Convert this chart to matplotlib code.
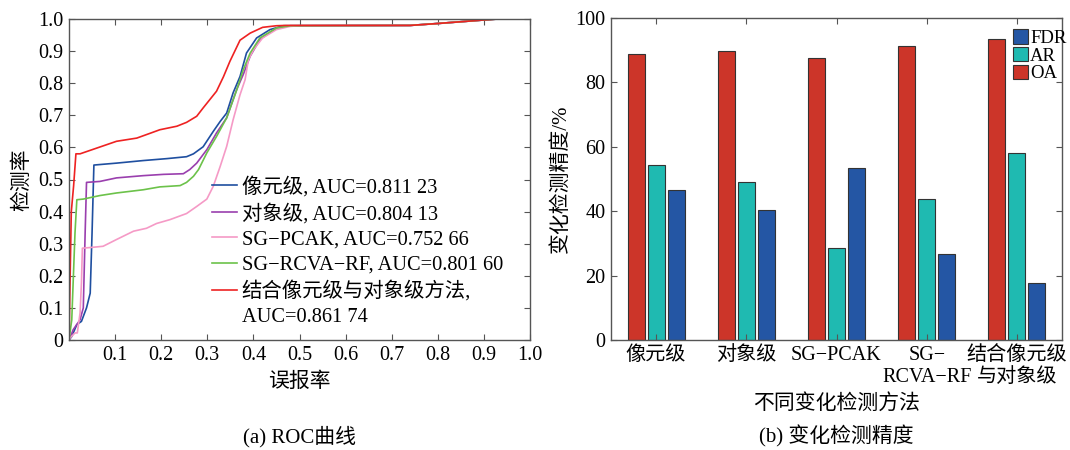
import matplotlib.pyplot as plt
from matplotlib.lines import Line2D
import numpy as np

plt.rcParams['font.family'] = ['Liberation Serif', 'Noto Sans CJK SC']
plt.rcParams['axes.unicode_minus'] = True

# ROC 曲线数据 (误报率, 检测率)
tail_x = [0.74, 0.80, 0.90, 0.93, 1.0]
tail_y = [0.980, 0.986, 0.997, 1.0, 1.0]

pix_x = [0, 0.006, 0.017, 0.027, 0.038, 0.046, 0.050, 0.054, 0.103, 0.161, 0.212, 0.255, 0.270,
         0.291, 0.313, 0.328, 0.342, 0.356, 0.371, 0.385, 0.407, 0.436, 0.465] + tail_x
pix_y = [0, 0.011, 0.048, 0.058, 0.100, 0.146, 0.333, 0.545, 0.551, 0.559, 0.565, 0.571, 0.580,
         0.602, 0.650, 0.681, 0.707, 0.770, 0.821, 0.894, 0.941, 0.967, 0.979] + tail_y

obj_x = [0, 0.002, 0.009, 0.024, 0.031, 0.035, 0.038, 0.067, 0.103, 0.161, 0.205, 0.248, 0.262,
         0.277, 0.299, 0.320, 0.342, 0.364, 0.378, 0.393, 0.414, 0.450, 0.480] + tail_x
obj_y = [0, 0.006, 0.032, 0.063, 0.100, 0.333, 0.491, 0.494, 0.505, 0.512, 0.516, 0.518, 0.531,
         0.551, 0.593, 0.645, 0.692, 0.781, 0.827, 0.884, 0.936, 0.972, 0.979] + tail_y

pcak_x = [0, 0.002, 0.013, 0.018, 0.024, 0.027, 0.029, 0.053, 0.074, 0.103, 0.140, 0.168, 0.190,
          0.219, 0.255, 0.277, 0.299, 0.313, 0.328, 0.342, 0.356, 0.371, 0.382, 0.389, 0.400,
          0.420, 0.450, 0.480, 0.500] + tail_x
pcak_y = [0, 0.006, 0.022, 0.022, 0.084, 0.178, 0.286, 0.289, 0.292, 0.313, 0.339, 0.348, 0.363,
          0.375, 0.394, 0.416, 0.439, 0.479, 0.541, 0.603, 0.686, 0.764, 0.811, 0.873, 0.904,
          0.941, 0.967, 0.977, 0.979] + tail_y

rf_x = [0, 0.006, 0.013, 0.017, 0.031, 0.067, 0.103, 0.161, 0.197, 0.241, 0.255, 0.270, 0.281,
        0.299, 0.320, 0.342, 0.364, 0.378, 0.393, 0.414, 0.450, 0.480] + tail_x
rf_y = [0, 0.063, 0.333, 0.437, 0.439, 0.450, 0.458, 0.468, 0.477, 0.481, 0.491, 0.510, 0.531,
        0.583, 0.634, 0.692, 0.780, 0.842, 0.894, 0.941, 0.972, 0.979] + tail_y

comb_x = [0, 0.005, 0.010, 0.015, 0.024, 0.103, 0.147, 0.176, 0.197, 0.234, 0.255, 0.277, 0.291,
          0.320, 0.335, 0.349, 0.371, 0.393, 0.420, 0.450, 0.470] + tail_x
comb_y = [0, 0.400, 0.480, 0.580, 0.580, 0.619, 0.629, 0.644, 0.655, 0.666, 0.678, 0.697, 0.723,
          0.775, 0.820, 0.868, 0.934, 0.956, 0.974, 0.979, 0.980] + tail_y

roc_labels = ['像元级, AUC=0.811 23', '对象级, AUC=0.804 13', 'SG−PCAK, AUC=0.752 66',
              'SG−RCVA−RF, AUC=0.801 60', '结合像元级与对象级方法,']
roc_extra = 'AUC=0.861 74'
roc_colors = ['#1f4fa0', '#9a3fae', '#f59ac6', '#6cc24a', '#ee2222']

# 变化检测精度数据
methods = ['像元级', '对象级', 'SG−PCAK', 'SG−\nRCVA−RF', '结合像元级\n与对象级']
oa = [88.8, 89.9, 87.5, 91.2, 93.4]
ar = [54.4, 49.1, 28.7, 43.7, 58.0]
fdr = [46.6, 40.4, 53.5, 26.7, 17.6]

spine_c = '#555555'
fs = 14.5

fig = plt.figure(figsize=(10.7, 4.5), dpi=100)

# (a) ROC 曲线
ax1 = fig.add_axes([69 / 1070, 1 - 340 / 450, 461 / 1070, 321 / 450])
curves = [(pix_x, pix_y), (obj_x, obj_y), (pcak_x, pcak_y), (rf_x, rf_y), (comb_x, comb_y)]
for (xs, ys), c, lab in zip(curves, roc_colors, roc_labels):
    ax1.plot(xs, ys, color=c, lw=1.2, label=lab)
ax1.set_xlim(0, 1)
ax1.set_ylim(0, 1)
ax1.set_xticks(np.arange(1, 11) / 10)
ax1.set_xticklabels(['%.1f' % v for v in np.arange(1, 11) / 10])
ax1.set_yticks(np.arange(0, 11) / 10)
ax1.set_yticklabels(['0'] + ['%.1f' % v for v in np.arange(1, 11) / 10])
ax1.set_xlabel('误报率', fontsize=15, labelpad=6)
ax1.set_ylabel('检测率', fontsize=15, labelpad=4)
handles, labels = ax1.get_legend_handles_labels()
handles.append(Line2D([], [], color='none'))
labels.append(roc_extra)
ax1.legend(handles, labels, loc='upper left', bbox_to_anchor=(0.31, 0.51), frameon=False,
           fontsize=14.7, handlelength=1.25, handletextpad=0.2, labelspacing=0.3, borderpad=0,
           borderaxespad=0)
ax1.text(0.5, -0.3, '(a) ROC曲线', transform=ax1.transAxes, ha='center', va='center', fontsize=15)

# (b) 变化检测精度
ax2 = fig.add_axes([611 / 1070, 1 - 340 / 450, 451 / 1070, 322 / 450])
pos = np.arange(1, len(methods) + 1)
w = 0.19
ax2.bar(pos - 0.222, oa, w, color='#cc3529', edgecolor='#333333', lw=0.8, label='OA')
ax2.bar(pos, ar, w, color='#1fbab1', edgecolor='#333333', lw=0.8, label='AR')
ax2.bar(pos + 0.222, fdr, w, color='#2456a4', edgecolor='#333333', lw=0.8, label='FDR')
ax2.set_xlim(0.5, 5.5)
ax2.set_ylim(0, 100)
ax2.set_yticks(range(0, 101, 20))
ax2.set_xticks(pos)
ax2.set_xticklabels(methods, linespacing=1.25)
ax2.set_xlabel('不同变化检测方法', fontsize=15, labelpad=5)
ax2.set_ylabel('变化检测精度/%', fontsize=15, labelpad=3)
h, l = ax2.get_legend_handles_labels()
ax2.legend(h[::-1], l[::-1], loc='upper right', bbox_to_anchor=(1.01, 0.965), frameon=False,
           fontsize=13.5, handlelength=0.8, handleheight=0.8, handletextpad=0.12,
           labelspacing=0.0, borderpad=0, borderaxespad=0)
ax2.text(0.5, -0.3, '(b) 变化检测精度', transform=ax2.transAxes, ha='center', va='center', fontsize=15)

for ax in (ax1, ax2):
    ax.tick_params(direction='in', top=True, right=True, labelsize=fs, length=4,
                   color=spine_c, pad=4)
    for s in ax.spines.values():
        s.set_color(spine_c)
        s.set_linewidth(1.0)

fig.savefig('out.png', dpi=100)
